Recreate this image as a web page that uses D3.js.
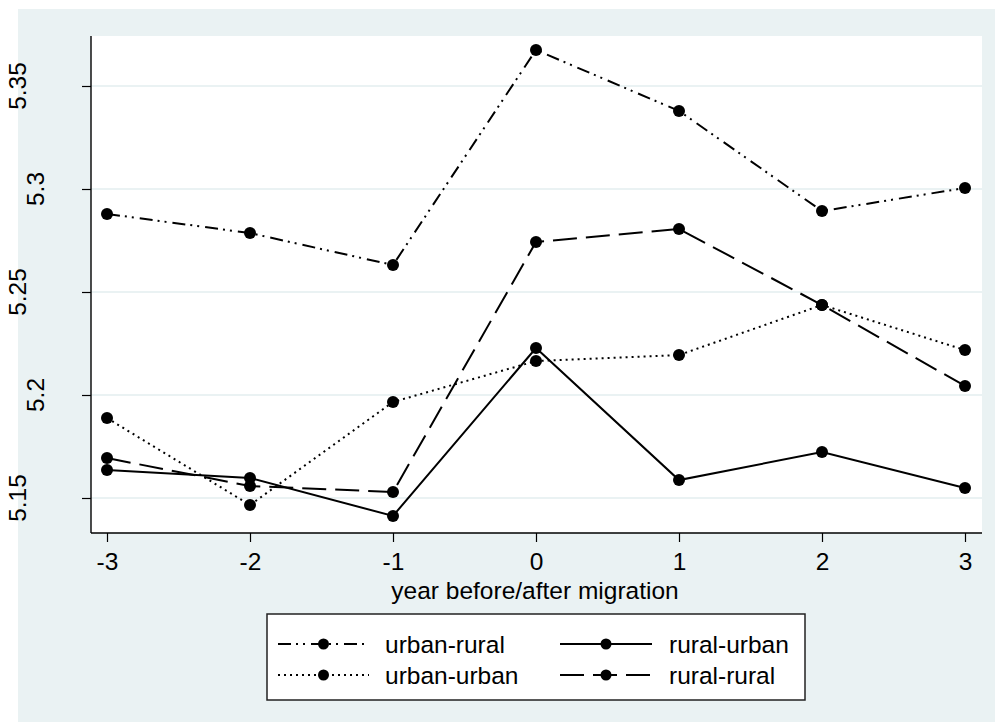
<!DOCTYPE html>
<html><head><meta charset="utf-8">
<script src="https://cdn.jsdelivr.net/npm/d3@7"></script>
<style>html,body{margin:0;padding:0;background:#fff;}svg{display:block;font-family:"Liberation Sans",Arial,sans-serif;}</style>
</head><body>
<script>
const years = [-3, -2, -1, 0, 1, 2, 3];
const xTickLabels = ["-3", "-2", "-1", "0", "1", "2", "3"];
const urbanRural = [5.2879, 5.2786, 5.2631, 5.3675, 5.3379, 5.2893, 5.3005];
const ruralUrban = [5.1636, 5.1597, 5.1413, 5.2228, 5.1587, 5.1723, 5.1549];
const urbanUrban = [5.1888, 5.1466, 5.1966, 5.2165, 5.2194, 5.2437, 5.2218];
const ruralRural = [5.1694, 5.1558, 5.1529, 5.2743, 5.2806, 5.2437, 5.2044];
const yTicks = [5.15, 5.2, 5.25, 5.3, 5.35];
const yTickLabels = ["5.15", "5.2", "5.25", "5.3", "5.35"];
const xTitle = "year before/after migration";
const seriesNames = ["urban-rural", "rural-urban", "urban-urban", "rural-rural"];

const series = [
  {name: seriesNames[0], values: urbanRural, dash: "13,5,2,5,2,6"},
  {name: seriesNames[1], values: ruralUrban, dash: null},
  {name: seriesNames[2], values: urbanUrban, dash: "2,4"},
  {name: seriesNames[3], values: ruralRural, dash: "24,9"}
];

const W = 995, H = 722;
const svg = d3.select("body").append("svg").attr("width", W).attr("height", H);
const bg = "#eaf2f3";
svg.append("rect").attr("x", 18).attr("y", 9).attr("width", W - 18).attr("height", H - 9).attr("fill", bg);

const plot = {left: 91, right: 982, top: 36, bottom: 533};
svg.append("rect").attr("x", plot.left).attr("y", plot.top)
  .attr("width", plot.right - plot.left).attr("height", plot.bottom - plot.top).attr("fill", "#fff");

const x = d3.scaleLinear().domain([-3, 3]).range([107, 965]);
const y = d3.scaleLinear().domain([5.15, 5.35]).range([498, 86]);

// gridlines
svg.append("g").selectAll("line").data(yTicks).join("line")
  .attr("x1", plot.left).attr("x2", plot.right)
  .attr("y1", d => y(d)).attr("y2", d => y(d))
  .attr("stroke", bg).attr("stroke-width", 2);

// axes
const fs = 24.5;
const xAxis = d3.axisBottom(x).tickValues(years).tickSize(9).tickPadding(11)
  .tickFormat((d, i) => xTickLabels[i]);
const gx = svg.append("g").attr("transform", `translate(0,${plot.bottom})`).call(xAxis);
gx.select(".domain").attr("d", `M${plot.left},0H${plot.right}`).attr("stroke", "#000").attr("stroke-width", 1.4);
gx.selectAll(".tick line").attr("stroke", "#000").attr("stroke-width", 1.2);
gx.selectAll(".tick text").attr("font-size", fs).attr("fill", "#000")
  .attr("font-family", "Liberation Sans, Arial, sans-serif").attr("dy", "0.71em");

const yAxis = d3.axisLeft(y).tickValues(yTicks).tickSize(9).tickFormat((d, i) => yTickLabels[i]);
const gy = svg.append("g").attr("transform", `translate(${plot.left},0)`).call(yAxis);
gy.select(".domain").attr("d", `M0,${plot.top}V${plot.bottom}`).attr("stroke", "#000").attr("stroke-width", 1.4);
gy.selectAll(".tick line").attr("stroke", "#000").attr("stroke-width", 1.2);
gy.selectAll(".tick text").remove();

// y labels (rotated; the longer ones sit further left as in the reference)
svg.append("g").selectAll("text").data(yTicks).join("text")
  .attr("transform", (d, i) => {
    const bx = yTickLabels[i].length > 3 ? 26 : 44;
    return `translate(${bx},${y(d)}) rotate(-90)`;
  })
  .attr("text-anchor", "middle").attr("font-size", fs).attr("fill", "#000")
  .text((d, i) => yTickLabels[i]);

// x title
svg.append("text").attr("x", 535).attr("y", 599).attr("text-anchor", "middle")
  .attr("font-size", fs).attr("fill", "#000").text(xTitle);

// lines
const line = d3.line().x((d, i) => x(years[i])).y(d => y(d));
const gl = svg.append("g");
series.forEach(s => {
  gl.append("path").attr("d", line(s.values)).attr("fill", "none")
    .attr("stroke", "#000").attr("stroke-width", 2)
    .attr("stroke-dasharray", s.dash);
});
series.forEach(s => {
  gl.append("g").selectAll("circle").data(s.values).join("circle")
    .attr("cx", (d, i) => x(years[i])).attr("cy", d => y(d)).attr("r", 6).attr("fill", "#000");
});

// legend
const lg = svg.append("g");
lg.append("rect").attr("x", 267).attr("y", 614).attr("width", 538).attr("height", 86)
  .attr("fill", "#fff").attr("stroke", "#222").attr("stroke-width", 1.5);
const legendPos = [
  {col: 0, row: 0}, {col: 1, row: 0}, {col: 0, row: 1}, {col: 1, row: 1}
];
const colKey = [[278, 369], [560, 652]];
const colText = [385, 669];
const rowY = [644, 675];
series.forEach((s, i) => {
  const p = legendPos[i];
  const [k0, k1] = colKey[p.col];
  const cy = rowY[p.row];
  lg.append("line").attr("x1", k0).attr("x2", k1).attr("y1", cy).attr("y2", cy)
    .attr("stroke", "#000").attr("stroke-width", 2).attr("stroke-dasharray", s.dash);
  lg.append("circle").attr("cx", (k0 + k1) / 2).attr("cy", cy).attr("r", 5.5).attr("fill", "#000");
  lg.append("text").attr("x", colText[p.col]).attr("y", cy + 8.5).attr("font-size", fs)
    .attr("fill", "#000").text(s.name);
});
</script>
</body></html>
